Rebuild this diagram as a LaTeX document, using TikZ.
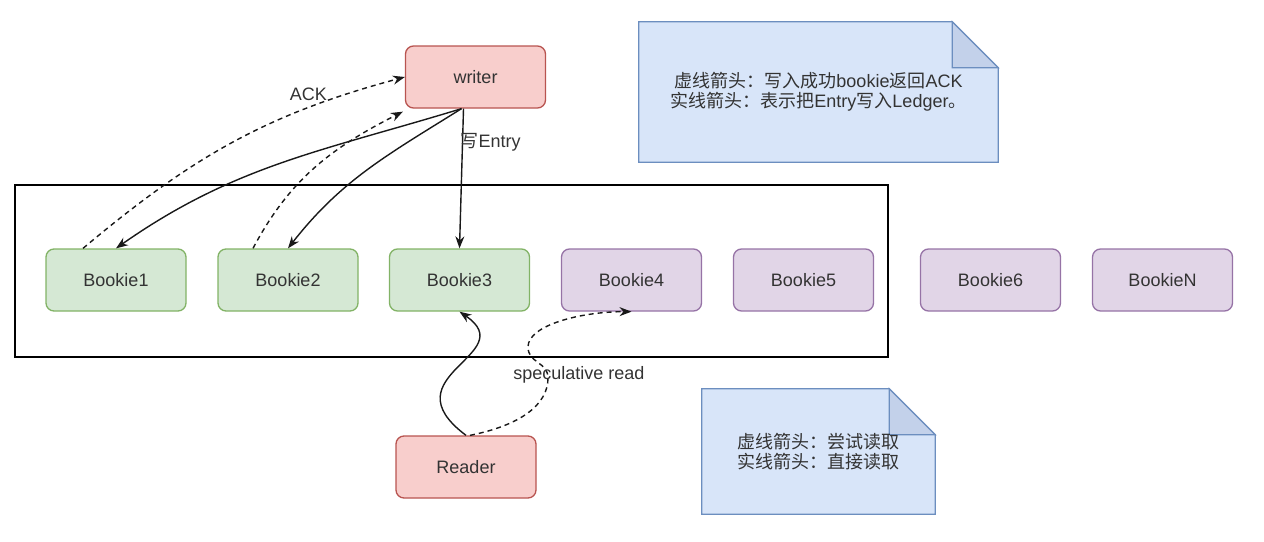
\documentclass[tikz,border=0pt]{standalone}
\usepackage{fontspec}
\setmainfont{Liberation Sans}
\newfontfamily\cjk{Noto Sans CJK SC}
\usetikzlibrary{arrows.meta,backgrounds}

\definecolor{greenfill}{HTML}{D5E8D4}
\definecolor{greenline}{HTML}{82B366}
\definecolor{purplefill}{HTML}{E1D5E7}
\definecolor{purpleline}{HTML}{9673A6}
\definecolor{redfill}{HTML}{F8CECC}
\definecolor{redline}{HTML}{B85450}
\definecolor{notefill}{HTML}{D8E5F9}
\definecolor{notefold}{HTML}{C3D1EA}
\definecolor{noteline}{HTML}{6C8EBF}
\definecolor{textgray}{HTML}{333333}

\tikzset{
  box/.style={rounded corners=8pt, line width=1.3pt, minimum width=140pt, minimum height=62pt,
    text=textgray, font=\fontsize{18}{21}\selectfont},
  bookieon/.style={box, draw=greenline, fill=greenfill},
  bookieoff/.style={box, draw=purpleline, fill=purplefill},
  client/.style={box, draw=redline, fill=redfill},
  link/.style={line width=1.4pt, draw=black!90, -{Stealth[length=12pt,width=9pt]}},
  ack/.style={link, dash pattern=on 5pt off 4pt},
  lbl/.style={text=textgray, font=\fontsize{18}{21}\selectfont},
  notetext/.style={text=textgray, align=center, font=\fontsize{18}{20}\selectfont, inner sep=0pt},
  notebox/.style={line width=1.2pt, draw=noteline, fill=notefill},
}

\begin{document}
\begin{tikzpicture}[x=1pt,y=1pt]
\useasboundingbox (0,0) rectangle (1264,-541);

\node[draw, line width=1.3pt, minimum width=873pt, minimum height=172pt] (ensemble) at (451.5,-271) {};

\node[client] (writer) at (475.5,-77) {writer};
\node[bookieon] (b1) at (116,-280) {Bookie1};
\node[bookieon] (b2) at (288,-280) {Bookie2};
\node[bookieon] (b3) at (459.5,-280) {Bookie3};
\node[bookieoff] (b4) at (631.5,-280) {Bookie4};
\node[bookieoff] (b5) at (803.5,-280) {Bookie5};
\node[bookieoff] (b6) at (990.5,-280) {Bookie6};
\node[bookieoff] (bN) at (1162.5,-280) {BookieN};
\node[client] (reader) at (466,-467) {Reader};

% notes
\node[notetext, minimum width=359pt, minimum height=140pt] (note1) at (818.5,-92)
  {{\cjk 虚线箭头：写入成功}bookie{\cjk 返回}ACK\\{\cjk 实线箭头：表示把}Entry{\cjk 写入}Ledger{\cjk 。}};
\node[notetext, minimum width=233pt, minimum height=125pt] (note2) at (818.5,-451.5)
  {{\cjk 虚线箭头：尝试读取}\\{\cjk 实线箭头：直接读取}};
\begin{scope}[on background layer]
\draw[notebox] (note1.south west) |- ([xshift=-46pt]note1.north east) -- ([yshift=-46pt]note1.north east) -- (note1.south east) -- cycle;
\draw[notebox, fill=notefold] ([xshift=-46pt]note1.north east) -- ([xshift=-46pt,yshift=-46pt]note1.north east) -- ([yshift=-46pt]note1.north east) -- cycle;
\draw[notebox] (note2.south west) |- ([xshift=-46pt]note2.north east) -- ([yshift=-46pt]note2.north east) -- (note2.south east) -- cycle;
\draw[notebox, fill=notefold] ([xshift=-46pt]note2.north east) -- ([xshift=-46pt,yshift=-46pt]note2.north east) -- ([yshift=-46pt]note2.north east) -- cycle;
\end{scope}

% writes and acks
\draw[link] ([xshift=-14pt]writer.south) to[out=197,in=35] (b1.north);
\draw[link] ([xshift=-14pt]writer.south) to[out=212,in=52] (b2.north);
\draw[link] ([xshift=-12pt]writer.south) -- node[lbl, right=-6pt, pos=0.24] (write) {{\cjk 写}Entry} (b3.north);
\draw[ack] ([xshift=-33pt]b1.north) to[out=40,in=195] node[lbl, above=3pt, pos=0.74] (ackl) {ACK} (writer.west);
\draw[ack] ([xshift=-35pt]b2.north) to[out=62,in=207] ([xshift=-2pt,yshift=-3pt]writer.south west);

% reads
\coordinate (bulge1) at (548,-378);
\coordinate (bulge2) at (528,-347);
\draw[link] (reader.north) .. controls +(-80,60) and +(63,-43) .. (b3.south);
\draw[ack] ([xshift=4pt]reader.north) .. controls +(50,10) and +(0,-27) .. (bulge1)
  .. controls +(0,16) and +(0,-16) .. (bulge2) .. controls +(0,22) and +(-50,0) .. (b4.south);
\node[lbl] (spec) at (579,-375) {speculative read};
\end{tikzpicture}
\end{document}
